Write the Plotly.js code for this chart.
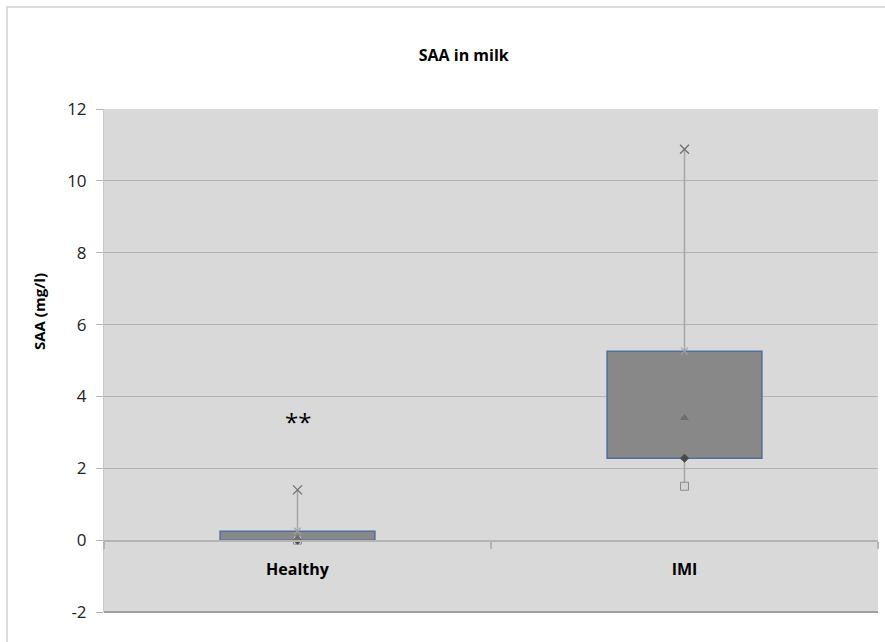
<!DOCTYPE html>
<html>
<head>
<meta charset="utf-8">
<script src="https://cdn.plot.ly/plotly-3.0.1.min.js"></script>
<style>html,body{margin:0;padding:0;background:#fff;}#chart{width:885px;height:642px;}</style>
</head>
<body>
<div id="chart"></div>
<script>
const categories = ["Healthy", "IMI"];
const minVals = [0.0, 1.5];
const q1Vals = [0.0, 2.28];
const meanVals = [0.05, 3.4];
const q3Vals = [0.25, 5.26];
const maxVals = [1.4, 10.88];
const yTicks = [-2, 0, 2, 4, 6, 8, 10, 12];
const sigLabel = "**";
const sigValue = 3.3;

const font = "'Open Sans', 'Liberation Sans', sans-serif";

// whisker segments: min->q1 and q3->max
const wx = [], wy = [];
categories.forEach((c, i) => {
  wx.push(c, c, null, c, c, null);
  wy.push(minVals[i], q1Vals[i], null, q3Vals[i], maxVals[i], null);
});

const traces = [
  {
    type: "bar",
    x: categories,
    base: q1Vals,
    y: q3Vals.map((v, i) => v - q1Vals[i]),
    width: 0.4,
    marker: { color: "#888888", line: { color: "#4f6f9c", width: 1.5 } },
    hoverinfo: "skip"
  },
  {
    type: "scatter", mode: "lines", x: wx, y: wy,
    line: { color: "#a6a6a6", width: 1.5 }, hoverinfo: "skip"
  },
  {
    type: "scatter", mode: "markers", x: categories, y: minVals,
    marker: { symbol: "square", size: 8, color: "#d4d4d4", line: { color: "#8c8c8c", width: 1 } }
  },
  {
    type: "scatter", mode: "markers", x: categories, y: q1Vals,
    marker: { symbol: "diamond", size: 7, color: "#4a4a4a", line: { width: 0 } }
  },
  {
    type: "scatter", mode: "markers", x: categories, y: meanVals,
    marker: { symbol: "triangle-up", size: 8, color: "#6e6e6e", line: { width: 0 } }
  },
  {
    type: "scatter", mode: "markers", x: categories, y: q3Vals,
    marker: { symbol: "x-thin", size: 7, color: "#a0a0a0", line: { color: "#a0a0a0", width: 1.2 } }
  },
  {
    type: "scatter", mode: "markers", x: categories, y: maxVals,
    marker: { symbol: "x-thin", size: 9, color: "#707070", line: { color: "#707070", width: 1.3 } }
  }
];

const layout = {
  width: 885, height: 642,
  margin: { l: 104, r: 7, t: 109, b: 30 },
  paper_bgcolor: "#ffffff",
  plot_bgcolor: "#d9d9d9",
  showlegend: false,
  barmode: "overlay",
  font: { family: font, color: "#000000" },
  title: {
    text: "<b>SAA in milk</b>",
    font: { family: font, size: 16, color: "#000" },
    xref: "container", x: 0.524, xanchor: "center",
    yref: "container", y: 1 - 55 / 642, yanchor: "middle"
  },
  xaxis: {
    type: "category",
    range: [-0.5, 1.5],
    anchor: "free",
    position: 2 / 14,
    showline: true, linecolor: "#b4b4b4", linewidth: 1.5,
    ticks: "outside", tickson: "boundaries", ticklen: 7, tickcolor: "#b4b4b4", tickwidth: 1.5,
    ticklabelstandoff: 14,
    showgrid: false,
    tickfont: { family: font, size: 16, color: "#000", weight: "bold" },
    zeroline: false, fixedrange: true
  },
  yaxis: {
    range: [-2, 12],
    tickvals: yTicks,
    ticktext: yTicks.map(String),
    showgrid: true, gridcolor: "#b4b4b4", gridwidth: 1,
    zeroline: false,
    showline: true, linecolor: "#c8c8c8", linewidth: 1,
    ticks: "outside", ticklen: 7, tickcolor: "#b4b4b4",
    ticklabelstandoff: 6,
    tickfont: { family: font, size: 17, color: "#222" }
  },
  annotations: [
    { x: categories[0], y: sigValue, text: sigLabel, showarrow: false,
      font: { family: font, size: 24, color: "#000" }, xanchor: "center", yanchor: "middle" },
    { xref: "paper", yref: "paper", x: (39 - 104) / 774, y: (612 - 312) / 503,
      text: "<b>SAA (mg/l)</b>", textangle: -90, showarrow: false,
      font: { family: font, size: 15, color: "#000" }, xanchor: "center", yanchor: "middle" }
  ],
  shapes: [
    { type: "line", xref: "paper", yref: "paper", x0: 0, x1: 1, y0: 0, y1: 0,
      line: { color: "#a0a0a0", width: 2 } },
    { type: "rect", xref: "paper", yref: "paper",
      x0: (7 - 104) / 774, x1: (890 - 104) / 774, y0: (612 - 650) / 503, y1: (612 - 7) / 503,
      line: { color: "#d0d0d0", width: 1.5 }, fillcolor: "rgba(0,0,0,0)", layer: "below" }
  ]
};

Plotly.newPlot("chart", traces, layout, { displayModeBar: false, staticPlot: true });
</script>
</body>
</html>
